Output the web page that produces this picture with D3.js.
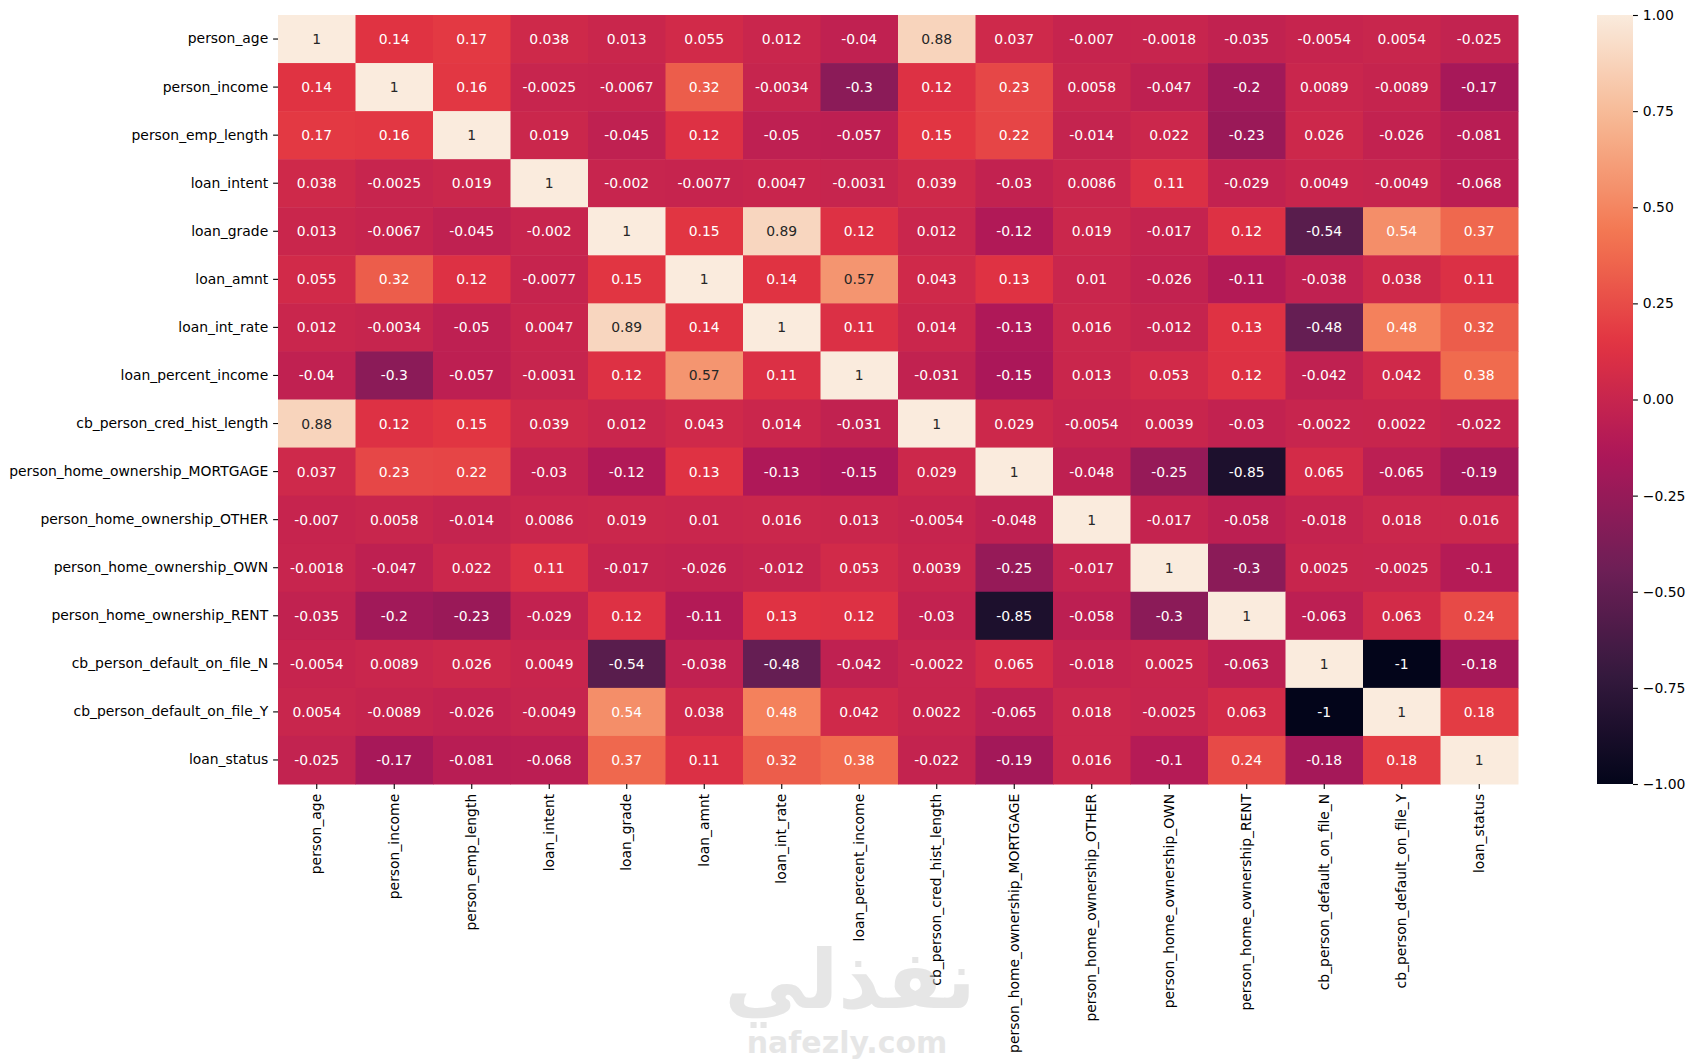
<!DOCTYPE html>
<html>
<head>
<meta charset="utf-8">
<script src="https://cdn.jsdelivr.net/npm/d3@7"></script>
<style>
  body { margin: 0; background: #fff; }
  text { font-family: "DejaVu Sans", sans-serif; }
</style>
</head>
<body>
<div id="chart"></div>
<script>
// column / row names (same order both ways)
var labels = [
  "person_age", "person_income", "person_emp_length", "loan_intent", "loan_grade",
  "loan_amnt", "loan_int_rate", "loan_percent_income", "cb_person_cred_hist_length",
  "person_home_ownership_MORTGAGE", "person_home_ownership_OTHER", "person_home_ownership_OWN",
  "person_home_ownership_RENT", "cb_person_default_on_file_N", "cb_person_default_on_file_Y", "loan_status"
];

// correlation rows
var rowPersonAge      = [1, 0.14, 0.17, 0.038, 0.013, 0.055, 0.012, -0.04, 0.88, 0.037, -0.007, -0.0018, -0.035, -0.0054, 0.0054, -0.025];
var rowPersonIncome   = [0.14, 1, 0.16, -0.0025, -0.0067, 0.32, -0.0034, -0.3, 0.12, 0.23, 0.0058, -0.047, -0.2, 0.0089, -0.0089, -0.17];
var rowEmpLength      = [0.17, 0.16, 1, 0.019, -0.045, 0.12, -0.05, -0.057, 0.15, 0.22, -0.014, 0.022, -0.23, 0.026, -0.026, -0.081];
var rowLoanIntent     = [0.038, -0.0025, 0.019, 1, -0.002, -0.0077, 0.0047, -0.0031, 0.039, -0.03, 0.0086, 0.11, -0.029, 0.0049, -0.0049, -0.068];
var rowLoanGrade      = [0.013, -0.0067, -0.045, -0.002, 1, 0.15, 0.89, 0.12, 0.012, -0.12, 0.019, -0.017, 0.12, -0.54, 0.54, 0.37];
var rowLoanAmnt       = [0.055, 0.32, 0.12, -0.0077, 0.15, 1, 0.14, 0.57, 0.043, 0.13, 0.01, -0.026, -0.11, -0.038, 0.038, 0.11];
var rowLoanIntRate    = [0.012, -0.0034, -0.05, 0.0047, 0.89, 0.14, 1, 0.11, 0.014, -0.13, 0.016, -0.012, 0.13, -0.48, 0.48, 0.32];
var rowPercentIncome  = [-0.04, -0.3, -0.057, -0.0031, 0.12, 0.57, 0.11, 1, -0.031, -0.15, 0.013, 0.053, 0.12, -0.042, 0.042, 0.38];
var rowCredHist       = [0.88, 0.12, 0.15, 0.039, 0.012, 0.043, 0.014, -0.031, 1, 0.029, -0.0054, 0.0039, -0.03, -0.0022, 0.0022, -0.022];
var rowMortgage       = [0.037, 0.23, 0.22, -0.03, -0.12, 0.13, -0.13, -0.15, 0.029, 1, -0.048, -0.25, -0.85, 0.065, -0.065, -0.19];
var rowOther          = [-0.007, 0.0058, -0.014, 0.0086, 0.019, 0.01, 0.016, 0.013, -0.0054, -0.048, 1, -0.017, -0.058, -0.018, 0.018, 0.016];
var rowOwn            = [-0.0018, -0.047, 0.022, 0.11, -0.017, -0.026, -0.012, 0.053, 0.0039, -0.25, -0.017, 1, -0.3, 0.0025, -0.0025, -0.1];
var rowRent           = [-0.035, -0.2, -0.23, -0.029, 0.12, -0.11, 0.13, 0.12, -0.03, -0.85, -0.058, -0.3, 1, -0.063, 0.063, 0.24];
var rowDefaultN       = [-0.0054, 0.0089, 0.026, 0.0049, -0.54, -0.038, -0.48, -0.042, -0.0022, 0.065, -0.018, 0.0025, -0.063, 1, -1, -0.18];
var rowDefaultY       = [0.0054, -0.0089, -0.026, -0.0049, 0.54, 0.038, 0.48, 0.042, 0.0022, -0.065, 0.018, -0.0025, 0.063, -1, 1, 0.18];
var rowLoanStatus     = [-0.025, -0.17, -0.081, -0.068, 0.37, 0.11, 0.32, 0.38, -0.022, -0.19, 0.016, -0.1, 0.24, -0.18, 0.18, 1];

var corr = [rowPersonAge, rowPersonIncome, rowEmpLength, rowLoanIntent, rowLoanGrade, rowLoanAmnt,
  rowLoanIntRate, rowPercentIncome, rowCredHist, rowMortgage, rowOther, rowOwn, rowRent,
  rowDefaultN, rowDefaultY, rowLoanStatus];

var colorbarTicks = [-1, -0.75, -0.5, -0.25, 0, 0.25, 0.5, 0.75, 1];

// seaborn "rocket" colormap, sampled
var rocketStops = ["#03051a", "#35193e", "#701f57", "#ad1759", "#e13342", "#f37651", "#f6b48f", "#faebdd"];
var rocketPos   = [0, 1/7, 2/7, 3/7, 4/7, 5/7, 6/7, 1];

var W = 1696, H = 1063;
var margin = {top: 15, left: 278, right: 178, bottom: 279};
var width = W - margin.left - margin.right;    // 1240
var height = H - margin.top - margin.bottom;   // 769
var fontSize = 13.9;

var rocket = d3.scaleLinear().domain(rocketPos).range(rocketStops).interpolate(d3.interpolateRgb).clamp(true);
var color = function(v) { return rocket((v + 1) / 2); };

function luminance(c) {
  var rgb = d3.rgb(c);
  var f = function(x) { x = x / 255; return x <= 0.03928 ? x / 12.92 : Math.pow((x + 0.055) / 1.055, 2.4); };
  return 0.2126 * f(rgb.r) + 0.7152 * f(rgb.g) + 0.0722 * f(rgb.b);
}

var x = d3.scaleBand().domain(labels).range([0, width]);
var y = d3.scaleBand().domain(labels).range([0, height]);

var svg = d3.select("#chart").append("svg")
  .attr("width", W)
  .attr("height", H);

var main = svg.append("g")
  .attr("transform", "translate(" + margin.left + "," + margin.top + ")");

// flatten to cells
var cells = [];
corr.forEach(function(row, i) {
  row.forEach(function(v, j) {
    cells.push({row: labels[i], col: labels[j], value: v});
  });
});

main.selectAll("rect.cell")
  .data(cells)
  .enter().append("rect")
  .attr("class", "cell")
  .attr("x", function(d) { return x(d.col); })
  .attr("y", function(d) { return y(d.row); })
  .attr("width", x.bandwidth() + 0.5)
  .attr("height", y.bandwidth() + 0.5)
  .attr("fill", function(d) { return color(d.value); });

main.selectAll("text.annot")
  .data(cells)
  .enter().append("text")
  .attr("class", "annot")
  .attr("x", function(d) { return x(d.col) + x.bandwidth() / 2; })
  .attr("y", function(d) { return y(d.row) + y.bandwidth() / 2; })
  .attr("text-anchor", "middle")
  .attr("dominant-baseline", "central")
  .style("font-size", fontSize + "px")
  .attr("fill", function(d) { return luminance(color(d.value)) > 0.408 ? "#262626" : "#ffffff"; })
  .text(function(d) { return String(d.value); });

// axes
var yAxis = main.append("g")
  .call(d3.axisLeft(y).tickSize(4.9).tickPadding(4.9));
var xAxis = main.append("g")
  .attr("transform", "translate(0," + height + ")")
  .call(d3.axisBottom(x).tickSize(4.9).tickPadding(4.9));

[xAxis, yAxis].forEach(function(ax) {
  ax.select(".domain").remove();
  ax.selectAll("line").attr("stroke", "#000").attr("stroke-width", 1.1);
  ax.selectAll("text").style("font-size", fontSize + "px").attr("fill", "#000")
    .style("font-family", "'DejaVu Sans', sans-serif");
});

xAxis.selectAll("text")
  .attr("transform", "rotate(-90)")
  .attr("text-anchor", "end")
  .attr("x", -9.8)
  .attr("y", 0)
  .attr("dy", "0.32em");

// colorbar
var cbX = 1597, cbW = 36;
var cbScale = d3.scaleLinear().domain([-1, 1]).range([margin.top + height, margin.top]);

var defs = svg.append("defs");
var grad = defs.append("linearGradient")
  .attr("id", "rocketGrad")
  .attr("x1", "0").attr("y1", "1").attr("x2", "0").attr("y2", "0");
d3.range(0, 1.0001, 0.02).forEach(function(t) {
  grad.append("stop").attr("offset", t).attr("stop-color", rocket(t));
});

svg.append("rect")
  .attr("x", cbX)
  .attr("y", cbScale(1))
  .attr("width", cbW)
  .attr("height", cbScale(-1) - cbScale(1))
  .attr("fill", "url(#rocketGrad)");

var cbAxis = svg.append("g")
  .attr("transform", "translate(" + (cbX + cbW) + ",0)")
  .call(d3.axisRight(cbScale).tickValues(colorbarTicks).tickFormat(d3.format(".2f")).tickSize(4.9).tickPadding(4.9));
cbAxis.select(".domain").remove();
cbAxis.selectAll("line").attr("stroke", "#000").attr("stroke-width", 1.1);
cbAxis.selectAll("text").style("font-size", fontSize + "px").attr("fill", "#000")
  .style("font-family", "'DejaVu Sans', sans-serif");

// watermark
var wm = svg.append("g").attr("opacity", 0.5);
wm.append("text")
  .attr("x", 850).attr("y", 1008)
  .attr("text-anchor", "middle")
  .style("font-size", "82px")
  .style("font-weight", "bold")
  .attr("fill", "#cfcfcf")
  .text("نفذلي");
wm.append("text")
  .attr("x", 847).attr("y", 1053)
  .attr("text-anchor", "middle")
  .style("font-size", "30px")
  .style("font-weight", "bold")
  .attr("fill", "#cfcfcf")
  .text("nafezly.com");
</script>
</body>
</html>
